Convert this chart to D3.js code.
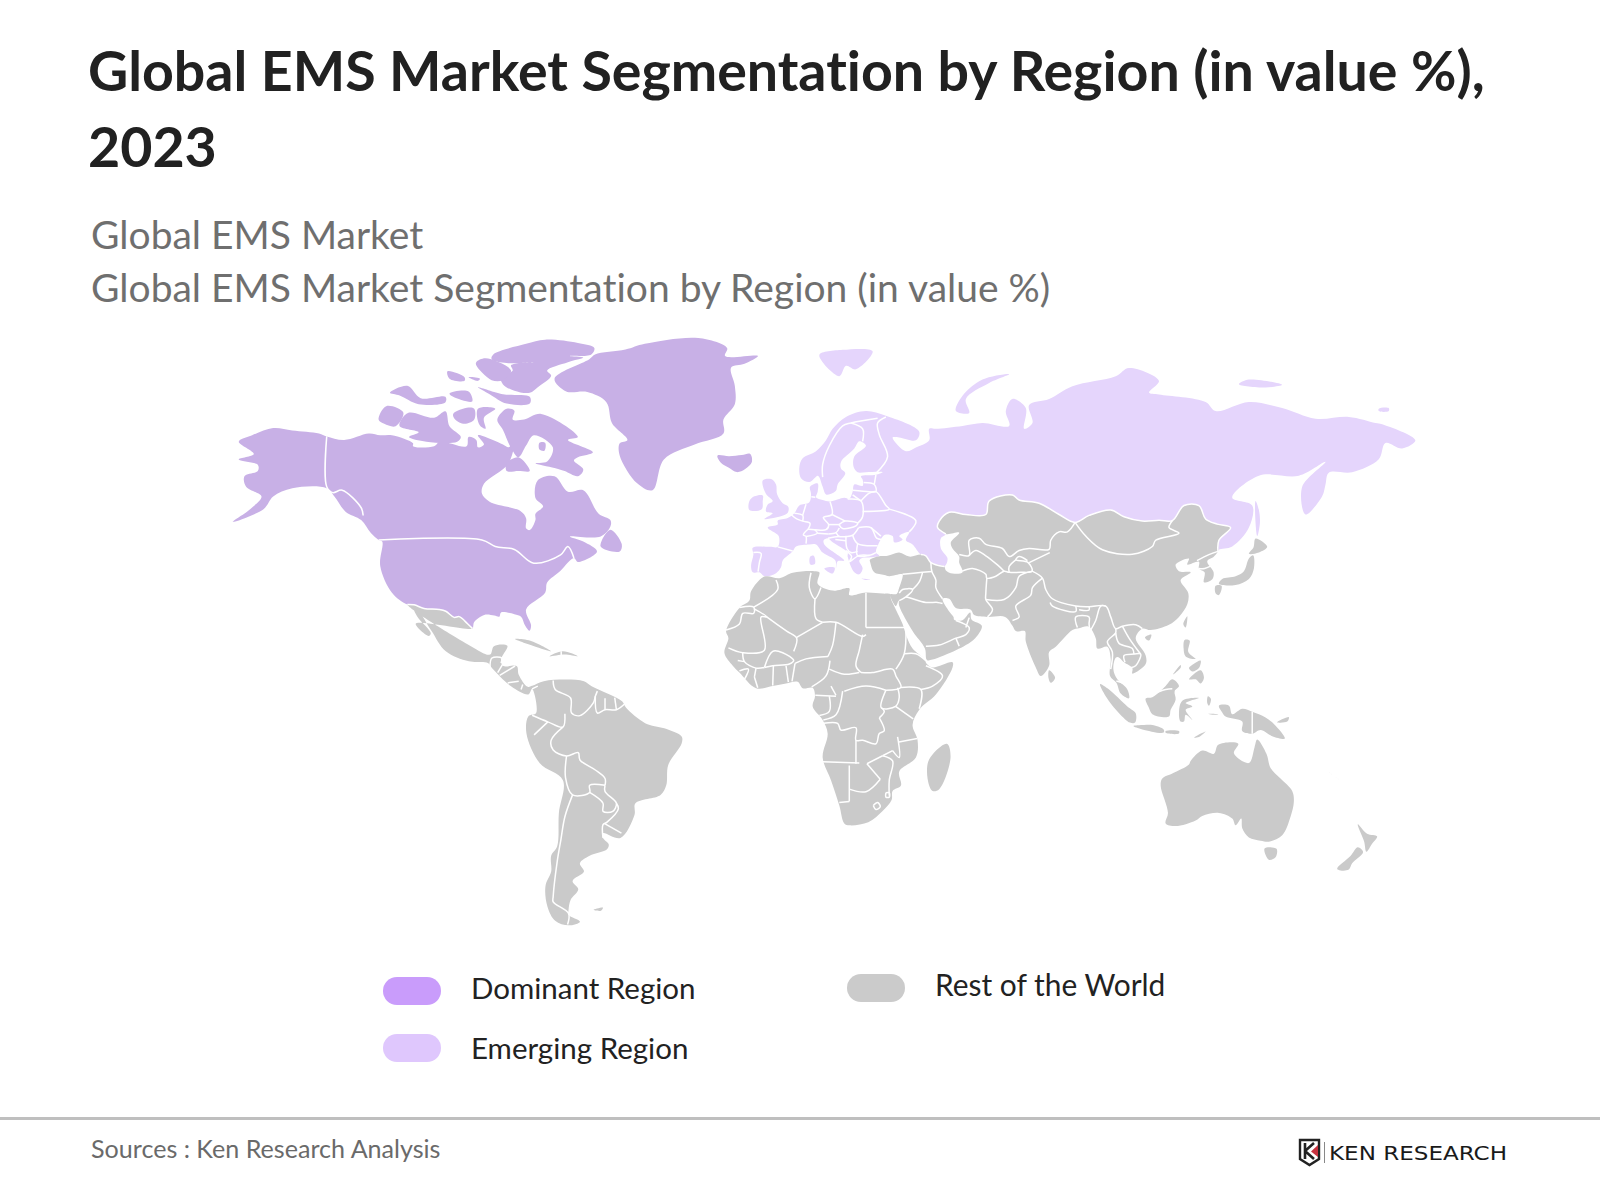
<!DOCTYPE html>
<html><head><meta charset="utf-8">
<script src="https://cdnjs.cloudflare.com/ajax/libs/d3/7.8.5/d3.min.js"></script>
<style>html,body{margin:0;background:#fff}svg{display:block}text{font-family:Lato,sans-serif;font-variant-ligatures:none}</style>
</head><body><svg id="c" width="1600" height="1200"></svg>
<script>
const titleLines=["Global EMS Market Segmentation by Region (in value %),","2023"];
const subtitleLines=["Global EMS Market","Global EMS Market Segmentation by Region (in value %)"];
const legendItems=["Dominant Region","Emerging Region","Rest of the World"];
const sourceText="Sources : Ken Research Analysis";
const logoText="KEN RESEARCH";

// shared frontiers (lon, lat)
const usMexico=[[-97.5,25.6],[-99,27],[-101.5,29],[-103,28.8],[-105.5,30.5],[-107.5,31],[-112,31.3],[-115,32.3],[-117,32.4]];
const russiaAsia=[[48.5,38.5],[44.5,39.5],[43,41.2],[41.5,41.5]];
const emergingAsia=[[130.7,42.3],[131,45],[134.5,48],[130.5,48.8],[127,50],[125,53],[120.5,53],[117,49.6],[113,49.7],[108,49.5],[102.5,50.5],[98.5,52],[92,50.8],[87.8,49.2],[83,51],[77,53.5],[71,54.2],[69,55.3],[62,54],[61,51],[55,51],[50,51.5],[47,49.5],[46.5,48],[49,46.5]];

// New World land
const northAmerica=[[-167.4,69.2],[-163.4,70.3],[-157.1,71.5],[-151.4,71.1],[-143.4,70.6],[-141.1,70.1],[-135.9,69.5],[-128.5,70.6],[-125.1,70.3],[-121.6,70.3],[-115.3,68.9],[-115.3,68.4],[-109,68.4],[-107.3,69.2],[-99.3,68.4],[-98.7,70],[-96.4,69.5],[-95.9,68.2],[-94.1,68.7],[-95.9,70.3],[-88.4,68.7],[-86.7,68.2],[-85,69.5],[-86.7,65.3],[-94.1,61.3],[-94.7,59.3],[-92.4,57.6],[-83.2,55.6],[-81.5,54],[-81.5,51.7],[-80.4,51.3],[-78.7,53.6],[-78.7,55],[-76.4,56.6],[-78.7,58.4],[-78,62],[-73,62.8],[-69,59.7],[-64.4,60],[-59.8,55],[-56.3,53.6],[-56.3,52.1],[-59.2,49.8],[-68.4,49.8],[-64.4,48.6],[-60.3,46.2],[-66,43.6],[-67.2,44.6],[-71.2,41.4],[-75.2,38.3],[-75.8,35.6],[-81.5,31],[-80,26.5],[-80.5,25],[-81.8,26.5],[-83,29],[-85,29.7],[-89,30.2],[-89.5,29],[-91,29.3],[-94,29.5],[-97,27.5],...usMexico,[-121.6,35.6],[-125.1,42.6],[-124.5,48.6],[-125.6,49],[-127.9,50.6],[-130.8,53.6],[-135.4,55.4],[-138.8,58.7],[-141.1,60.4],[-151.4,60.4],[-157.1,58.7],[-160,56],[-169.2,53.2],[-164,56],[-160.6,58.7],[-165.2,60.7],[-165.7,62.8],[-161.7,63.8],[-161.7,65],[-167.4,66],[-162.9,67]];
const greenland=[[-46,83.5],[-30,84.2],[-21.4,83],[-22,82],[-12.2,82],[-16.2,81],[-20.2,80.5],[-19.1,78],[-19.1,75.3],[-22.5,72.9],[-22.5,70.6],[-31.1,68.7],[-40.3,66],[-43.7,60],[-48.3,61.4],[-53.5,66.7],[-53.5,68.9],[-51.2,69.5],[-55.8,72.3],[-57.5,75.6],[-63.2,77.1],[-69.5,77.2],[-73,79],[-62.6,81.6],[-60.9,82.2],[-51.8,82.8]];
const iceland=[[-24.3,66.7],[-20.8,66.6],[-17,66.8],[-14.5,67],[-14,65.5],[-16,64.2],[-18.5,63.6],[-21,64.5],[-23.1,65.3]];
const ellesmere=[[-91.3,82.2],[-81.5,83.5],[-75.8,84],[-66,83.6],[-61.1,83],[-62,82.2],[-68.4,82],[-64.4,81.8],[-69,81.2],[-75.2,80.1],[-74,79.4],[-78,77.8],[-80.4,77],[-85,77.3],[-88.4,78.2],[-89,79.2],[-85.5,80.1],[-86,80.8],[-79.2,81.2],[-87.3,81.1],[-91.8,81.6]];
const axel=[[-96.4,81.2],[-93.6,81.7],[-86,80.1],[-88.4,78.8],[-91.8,78.8],[-96.4,80.8]];
const meighen=[[-105,80],[-99.9,79.2],[-99.9,78.7],[-104.4,79]];
const ringnes=[[-98.7,79.2],[-95.3,79],[-95.9,78.7]];
const devon=[[-95.9,77.8],[-88.4,76.8],[-80.4,76.4],[-80.4,75.4],[-87.3,75.4],[-92.4,76.8]];
const melville=[[-122.2,77],[-117,78],[-113,76.2],[-105.6,76.4],[-105.6,75.6],[-113.6,75.3],[-119.3,76.6]];
const bathurst=[[-104.4,76.9],[-98.7,77.2],[-97.6,75.7],[-103.3,76.4]];
const banks=[[-125.6,72.9],[-123.3,75],[-118.2,74],[-120.5,71.8],[-123.9,72.2]];
const victoria=[[-118.8,72.9],[-116.5,74],[-109,73.2],[-105.6,74.2],[-104.4,71.8],[-101,70],[-102.1,69.2],[-111.3,69.2],[-116.5,70],[-113.6,70.8],[-119.3,71.8]];
const princeWales=[[-103.3,73.8],[-98.7,74.8],[-97,74.6],[-97,72.9],[-99.9,72.2],[-102.7,72.9]];
const somerset=[[-95.9,74.6],[-90.7,74.6],[-94.1,73.2],[-93.6,71.4],[-95.4,72]];
const baffin=[[-90.1,72.9],[-87.3,74.6],[-85,74.3],[-85.5,72.9],[-82.1,72.9],[-77,73.8],[-66,70],[-69,69.5],[-61.5,67.3],[-66,66.4],[-67.2,65.8],[-64.4,64.1],[-66,62.8],[-70,63.8],[-73,64.4],[-78.7,65.3],[-75.2,65.6],[-73.5,68.2],[-79.2,70.3],[-81.5,68.5],[-83.8,66.4],[-86.1,68.2],[-88.4,71.2]];
const southampton=[[-87.3,65.3],[-83.8,66.4],[-80.4,63.8],[-83.8,63.8],[-87.3,63.8]];
const foxeIsle=[[-77.5,69],[-75.8,69],[-76,67.6],[-77.5,67.8]];
const newfoundland=[[-59.2,47.4],[-56.3,51.4],[-52.9,48],[-53.5,46.2]];
const latinAmerica=[...usMexico.slice().reverse(),[-114.5,27],[-110.6,23.5],[-110,24.3],[-114,29],[-115.2,31.5],[-113.5,30.4],[-109.8,25],[-105.5,19],[-98.6,16],[-92.9,15.5],[-91.7,14],[-86,8.5],[-80.8,6],[-79.7,7.7],[-78.5,0.3],[-80.8,-.7],[-81.4,-5.9],[-77.4,-15],[-70.5,-20],[-71.7,-29.5],[-72.2,-38.5],[-74,-41],[-74,-45],[-75.7,-48.5],[-75.1,-53.3],[-72.8,-56.4],[-68.8,-57.4],[-65.4,-56.6],[-68.8,-55.1],[-68.8,-54],[-68.2,-51.8],[-65.9,-49.3],[-67.6,-47.3],[-64.2,-45],[-65.4,-42.9],[-62.5,-41],[-57.3,-39.3],[-56.8,-38],[-58.5,-36.3],[-58.5,-35],[-53.3,-36.3],[-49.1,-30],[-48.8,-26.7],[-41.3,-24.3],[-39.6,-21.5],[-39,-15.5],[-35,-9],[-35,-6.9],[-40.2,-4.4],[-45.9,-2.8],[-51.6,1.9],[-52.8,3.9],[-61.9,8.5],[-64.2,10],[-69.4,10.5],[-76.2,10],[-79.7,8.6],[-81,8.3],[-83.7,12],[-84.3,14.6],[-88.3,14.6],[-89,16.5],[-87.1,20.6],[-91.1,20.5],[-92.3,18],[-98,20.5]];
const cuba=[[-84.8,22.6],[-80.2,22.1],[-74,19],[-79.1,20.5]];
const hispaniola=[[-74.5,17.5],[-70.5,19],[-66,17.5],[-70,18]];
const falkland=[[-61.4,-54],[-58.5,-53.5],[-59.1,-54.2]];

// Old World land
const eurasiaNorth=[[-9,37],[-9.5,38.7],[-8.8,41.5],[-9,43.2],[-4,43.4],[-1.5,43.4],[-1.2,46],[-4.5,48],[-1.5,48.7],[-1.5,49.6],[1.5,50.2],[3.5,51.3],[5,53],[8,53.7],[8.5,55.5],[8.2,57],[10.5,57.7],[10.5,56],[10,54.8],[12,54.2],[14.2,53.9],[18.5,54.7],[20,54.5],[21,56],[21.5,57.5],[24,57.2],[24,58.5],[23.5,59.2],[28,59.5],[30,60],[25,60],[22.5,60],[21.3,61],[21.5,63],[25,65],[23,65.8],[21.5,64.5],[17.5,62],[17.5,60.7],[18.8,59.8],[16.5,57.5],[16,56.2],[14.3,55.5],[13,55.4],[12,57],[11,59],[10.5,59.3],[8,58],[5.5,58.8],[5,61],[6,62.7],[10,64],[13,66],[15,68],[19,70],[25,71],[31,70.2],[41,67.5],[40,66],[35,66.5],[33,66.5],[37,64],[40,64.7],[44,66],[44,68],[46,68],[54,68.5],[60,69],[68,68.5],[67,71],[69,73],[73,71.5],[72.5,68],[75,69],[74,72],[80,73],[87,75],[100,76.5],[104,77.7],[113,75.8],[110,74],[113,73.7],[127,72.5],[130,71],[140,72.5],[150,71.5],[160,69.7],[170,70],[178,69],[180,68.8],[190,66],[186,64.5],[181,65.5],[179,62.5],[171,60],[164,59.9],[163,57.5],[162,55],[157,51],[156,57],[163,62],[155,59.3],[143,59.3],[135,54.7],[141,53],[140,48],[135,43.5],[131,42.7],...emergingAsia,[47.5,45.5],[47.5,43],[49.5,40.5],...russiaAsia,[39,44],[37,45],[38,47],[35,46],[36,45.2],[33.5,44.5],[33,46],[30.7,46.3],[28.7,44],[28,42],[29,41.2],[26,40.8],[24,40.7],[23,40],[24,38],[23,36.5],[21.5,37],[19.5,41],[19.5,42],[15,44.5],[13.5,45.5],[12.3,45],[12.5,44],[16,41.7],[18.5,40],[16.5,39.8],[16,38],[15.8,40],[12,42],[10,44],[8,44],[4,43.5],[3,42.3],[0,40],[-0.5,38.3],[-2,36.8],[-5.5,36],[-7,37]];
const britain=[[-5.5,50],[1.3,51.2],[1.7,52.7],[0,53.5],[-1.7,55.5],[-2,57.5],[-3.5,58.6],[-6,58.3],[-5,55.5],[-3,54],[-4.5,53.2],[-5,51.7],[-3,51.3]];
const ireland=[[-10,52],[-6.3,52.2],[-6,54],[-6,55.2],[-8.5,55],[-10,54]];
const svalbard=[[11,79.5],[17,76.5],[19,78],[22,77.5],[27,80],[18,80.2]];
const novaya=[[52,71],[56,70.7],[55,73],[62,75.5],[68,76.8],[60,76],[54,73.5]];
const newSiberia=[[137,75.3],[145,74.8],[150,75.2],[140,76]];
const wrangel=[[179,71],[182,71],[182,71.5],[179,71.4]];
const sakhalin=[[142,54],[143,52],[143.3,49],[142.5,46],[142,49]];
const sicily=[[12.5,38],[15.6,38.2],[15,36.7]];
const sardinia=[[8.3,39],[9.7,39.2],[9.3,41.2],[8.2,40.9]];
const crete=[[23.6,35.4],[26.2,35.1],[25,35]];
const asia=[[26.2,40.2],[29,41.1],[31.5,41.2],[35,42],[38,41],...russiaAsia.slice().reverse(),[49,37.5],[51,36.7],[54,37],[53,39.5],[53,41],[51,43],[50.5,44.5],[53,46.8],...emergingAsia.slice().reverse(),[129.5,41],[127.5,39.8],[129.4,37],[129,35.2],[126.5,34.4],[126.7,37],[125,38],[125,39.7],[121.5,39],[122,40.5],[118,39],[119,37.3],[122.5,37],[119.5,35],[121.8,31.5],[121.5,28.5],[119,25],[116,22.8],[110.5,21.3],[108,21.7],[106,19],[109,14],[109,11.5],[105,8.7],[105,10.3],[102.5,12],[100.8,13.5],[100,13.3],[99.3,10],[100.5,7],[103.5,4],[104,1.4],[101.5,2.8],[100.2,6],[98.3,8],[98.5,13],[97.5,16.5],[94.5,16],[94,19],[91.8,22.3],[89,21.8],[87,21.3],[82,16.5],[80,15],[80,11],[77.5,8],[76,10.5],[73,18],[72.7,21],[70,21],[69,22.5],[66.8,25],[61.5,25],[57.5,25.5],[56.5,27],[52,27.5],[50,30],[48,30],[50,26.5],[51.3,25],[51.5,24.2],[54,24.1],[56.3,26.2],[56.7,24.3],[59.8,22.5],[57.8,19],[55,17],[52,15.5],[45,12.8],[43.3,12.7],[42.7,16],[39,21],[35,28],[34.8,29.5],[34,28],[32.7,29.8],[32.3,31.2],[34.2,31.3],[35,33],[36,35.8],[36,36.5],[32,36],[30.5,36.3],[27.5,37],[26.3,39.5]];
const africa=[[32.5,30],[32.3,31.2],[30,31.4],[25,31.7],[20,31],[20,32.8],[15,32.2],[10.5,34],[11,37],[9.5,37.3],[3,36.9],[-1,35.5],[-5.5,35.9],[-9.5,32],[-10,29.5],[-13,27.5],[-17,21],[-16.3,19],[-17.5,14.7],[-15,11],[-13,9],[-8,4.4],[-3,5],[1,5.8],[4.5,6.3],[6,4.4],[9,4.5],[9.7,2],[9,-1],[12,-5],[13.5,-9],[12,-16],[14.5,-22.5],[17,-29.5],[18.5,-34.3],[20,-34.8],[25.7,-34],[30,-31],[32.7,-28],[33,-25.5],[35.5,-24],[35,-20],[40,-16],[40.5,-11],[39,-6.5],[41,-2],[46,2.5],[51,10.5],[51,12],[45,10.5],[43.3,11.5],[42.5,13],[39,16],[37.2,19.5],[36,23],[34,27]];
const madagascar=[[44,-16.5],[49.3,-12],[50.4,-16],[47,-25],[45,-25.5],[43.5,-22]];
const sriLanka=[[80,9.7],[81.8,7.5],[80.5,6],[79.8,7.5]];
const honshu=[[131,34],[136,33.7],[140,35.3],[141.5,38],[141.3,41.3],[140,40.5],[138.5,37.3],[136,36],[132,35.3]];
const hokkaido=[[140,41.7],[143,42],[145.5,43.4],[142,45.4],[141.4,43.3]];
const kyushu=[[130,33.5],[131.8,33.5],[131,31],[130,31.5]];
const taiwan=[[120.3,23],[121.5,25.2],[121,22]];
const hainan=[[108.8,19.2],[110.7,20],[110,18.3]];
const luzon=[[120.4,16],[120.7,18.5],[122.2,18.3],[121.8,15],[124,13],[121,13.7]];
const mindanao=[[122,7],[125.5,9.7],[126.5,7.5],[125.5,5.8],[124,7]];
const visayas=[[122,10.3],[123.5,11.6],[125.5,12.5],[125,10.3],[123,9.3]];
const palawan=[[117.2,8.4],[119.5,11.2],[119.5,10.4]];
const borneo=[[109,1.3],[111,1.7],[113,3.2],[115,5],[117,7],[119,5],[117.7,3.5],[118,1],[116.5,-2],[116,-4],[111,-3.3],[110,-1.5]];
const sumatra=[[95.3,5.6],[98,4],[103.5,-1],[106,-3],[105.8,-5.8],[104.3,-5.8],[101,-3],[97,2]];
const java=[[105.3,-6.8],[108.5,-6.5],[111,-6.5],[114.4,-7.8],[114.4,-8.7],[108,-7.8]];
const lesserSunda=[[115,-8.3],[119,-8.3],[119,-9],[115,-8.8]];
const timor=[[123.5,-10.2],[127,-8.4],[125,-10]];
const sulawesi=[[119.5,-5.5],[119,-3],[120,0.7],[125,1.5],[121,0],[123,-1],[121,-2],[123,-5],[121,-3.5],[120.5,-5.5]];
const halmahera=[[127.5,0],[127.7,2],[128.6,1.2],[128,-0.8]];
const seram=[[127.8,-3.2],[130.8,-3.3],[129,-3.5]];
const newGuinea=[[131,-0.8],[134,-0.8],[135,-3.3],[138,-1.7],[141,-2.6],[145,-4.3],[147.8,-6.5],[150.8,-10.5],[147,-9.8],[143.5,-8],[141,-9.1],[138,-8.3],[138,-5.5],[133,-4],[132,-2.8]];
const newBritain=[[148.5,-5.7],[152,-4.2],[151.5,-5.5]];
const australia=[[113.5,-24],[114,-22],[117,-20.6],[122,-18],[122.5,-17],[126,-14],[129.5,-14.9],[130.8,-12.3],[136.8,-12],[135.5,-14.8],[140,-17.6],[141.7,-13],[142.5,-10.8],[145.3,-15],[146.5,-19],[149.5,-22],[153,-25.5],[153.5,-28.5],[152.5,-32.5],[150,-37.4],[146.3,-39],[143.5,-38.8],[140,-38],[138,-35.6],[137.7,-33],[136,-34.8],[135,-33],[131,-31.5],[126,-32.3],[124,-33.5],[118,-35],[115,-34.3],[115.7,-31.5]];
const tasmania=[[144.7,-40.8],[148.3,-40.9],[148,-43],[146,-43.6]];
const nzNorth=[[172.7,-34.5],[175.5,-37],[178.5,-37.7],[177,-39.6],[175.3,-41.6],[174.6,-39]];
const nzSouth=[[172.7,-40.5],[174.3,-41.7],[171,-44.5],[170,-46],[167.5,-46.2],[166.5,-45.8],[170.5,-42.7]];
const newCaledonia=[[164,-20.2],[167,-22.2],[165.5,-21.2]];

const dominantLand=[northAmerica,greenland,iceland,ellesmere,axel,meighen,ringnes,devon,melville,bathurst,banks,victoria,princeWales,somerset,baffin,southampton,foxeIsle,newfoundland];
const restLandNew=[latinAmerica,cuba,hispaniola,falkland];
const emergingLand=[eurasiaNorth,britain,ireland,svalbard,novaya,newSiberia,wrangel,sakhalin,sicily,sardinia,crete];
const restLandOld=[asia,africa,madagascar,sriLanka,honshu,hokkaido,kyushu,taiwan,hainan,luzon,mindanao,visayas,palawan,borneo,sumatra,java,lesserSunda,timor,sulawesi,halmahera,seram,newGuinea,newBritain,australia,tasmania,nzNorth,nzSouth,newCaledonia];

const newWorldFrontiers=[
 [[-141.1,70.1],[-141.1,60.7],[-139.3,59.5],[-136.5,60],[-130.8,56.3],[-130.2,54.6]],
 [[-125.6,49],[-94.7,49],[-90.7,47.4],[-85,46.7],[-79.2,43.3],[-71.2,45.4],[-69,47.4],[-67.2,44.6]],
 usMexico,
 [[-73.4,10.2],[-72.8,7.5],[-68.2,4.9],[-67.9,.3],[-65.4,-.5],[-61.4,3.4],[-60.8,5.4],[-60.2,7]],
 [[-60.8,5.4],[-60.2,.3],[-57.9,1.3],[-54.5,1.3],[-51.9,3.2]],[[-57.9,1.3],[-57.9,4.8]],[[-54.5,1.3],[-55,5]],
 [[-69.9,.1],[-70.5,-4],[-75,-2.4],[-79.7,-.4]],[[-75,-2.4],[-79.1,-6.4]],
 [[-70.5,-4],[-74,-8],[-73.4,-11],[-69.4,-12.8],[-65.9,-11.8],[-65.4,-14],[-60.8,-17],[-57.9,-19.5],[-57.9,-21.5]],
 [[-69.4,-12.8],[-69.7,-19.3],[-67.6,-24.3],[-62.5,-23.6],[-62.5,-21.5],[-57.9,-21.5]],
 [[-62.5,-23.6],[-58.5,-26.7],[-58.5,-29],[-55.6,-29],[-54.5,-26.7],[-57.9,-23.3],[-57.9,-21.5]],
 [[-54.5,-26.7],[-53.9,-28.2],[-57.3,-32],[-58.5,-32.7],[-58.5,-36.3]],[[-58,-32.4],[-53,-35]],
 [[-67.6,-24.3],[-69.9,-30.5],[-71.1,-36.8],[-72.2,-42.5],[-73.4,-51],[-73.4,-52.2],[-68.8,-54.8],[-69.1,-57.2]],
 [[-92.3,14],[-91.7,17],[-88.8,17],[-89,15.5]],[[-90,12.6],[-88.3,15.5]],[[-89.4,11.8],[-84.8,14.6]],[[-87,9.5],[-83.7,10]],[[-83,7.5],[-82.5,9]],[[-79.7,7.7],[-78,8.5]],[[-71,19],[-71,17.5]]
];
const oldWorldFrontiers=[
 emergingAsia,russiaAsia,
 [[-1.5,43.4],[3,42.4]],[[-8.8,42],[-6.5,41.8],[-7,39.5],[-7.4,37.2]],
 [[2.5,51],[4.2,50],[6,49.5],[8.2,49],[7.6,47.6]],[[7.6,47.6],[6.2,46.3],[7,45.9],[7,44.2]],
 [[3.5,51.3],[6,50.8],[6,49.5]],[[7,53.3],[6,50.8]],[[8.6,54.9],[9.8,54.8]],
 [[14.2,53.9],[14.8,51],[12.2,50.3],[13.8,48.7],[13,47.5],[9.6,47.5],[7.6,47.6]],
 [[7,45.9],[10.4,46.7],[9.6,47.5]],[[10.4,46.7],[13.7,46.5]],[[13.8,48.7],[16.9,48.7]],[[14.8,51],[18.8,49.5]],
 [[16.9,48.7],[18.8,49.5],[22.5,49],[22,48.4],[18,47.8],[16.9,48.7]],
 [[16,46.8],[17,45.9],[19,45.9],[21,46.2],[22.8,48]],[[13.7,46.5],[16,46.8],[17,47.9]],[[13.6,45.5],[15.5,45.8],[17,45.9]],
 [[22.5,49],[24,50.5],[23.5,54],[19.5,54.4]],[[23.5,54],[26,55.7],[28,56],[31,53],[32,52.2],[24,51.7]],
 [[21,56.3],[26,56],[28,56],[27.5,57.5],[24.3,57.9]],[[27.5,57.5],[28,59.5]],[[23.5,54],[21,55.3]],
 [[32,52.2],[40,49.6],[38,47]],[[22.8,48],[26.5,48],[28.2,45.5],[29.7,45.2]],[[26.5,48],[29.5,46]],
 [[21,46.2],[22.5,44.2],[28.5,43.7]],[[22.5,44.2],[22.5,41.2],[26,41.3],[28,42]],
 [[19,45.9],[19.3,43],[20.5,42],[22.5,42.3]],[[15.8,45.2],[19,44.9]],[[19,42.5],[20.7,41],[20,39.7],[23,41.3],[26.3,41.3]],
 [[28,59.8],[31.5,63],[29,67],[28.5,69],[31,70]],[[24,65.8],[24,68],[20.5,69]],[[12,59],[12,61.5],[14,65],[18,68.5],[20.5,69],[28.5,69.8]],
 [[53,41.5],[56,41.3],[56,45],[59,45.5],[61,44],[66,43],[68,41],[71,42.5],[74,43],[80,42.8],[80.5,45],[83,47],[85.5,47],[87.8,49.2]],
 [[87.8,49.2],[91,46],[96,42.7],[105,41.6],[111,43.5],[112,45],[119,46.7],[116,48],[117,49.6]],
 [[56,41.3],[58,42.5],[61,41.2],[64.5,38.9],[66.5,37.3]],[[53.9,37.3],[57,38],[61,36.5],[61.3,35.5],[64,36],[66.5,37.3],[68,37],[71.5,37],[74.9,37.3],[73.7,39.5],[70,40.2],[71,41],[73.5,40]],
 [[70,40.2],[68,38.5],[68,37]],[[80.2,42],[74,39.5]],
 [[74.9,37.3],[78,35.5],[79,32.5],[81,30],[88,28],[92,27.8],[97,28],[98.5,25],[100,21.7],[102,22.4],[106,22.8],[108,21.7]],
 [[80.3,29],[81,28],[88,26.5],[88,28]],[[89,27],[92,26.9],[92,28]],
 [[61,29.8],[66.5,29.8],[70,33],[71,36],[74.9,37.3]],[[61.5,25],[63,27],[61,29.8],[61,31.5],[61.3,35.5]],
 [[69,24],[71,25],[70,28],[74.5,31],[75,33],[78,35.5]],[[88.5,22],[88,25],[92,25],[92,23],[92.3,21]],[[92.3,21],[94,24],[95.5,28],[97,28]],
 [[98.5,10],[99,15],[97.5,18],[100,20.5],[100,21.7]],[[100,20.5],[101,17.5],[105,16],[105.5,14.4]],[[102,22.4],[104,19],[107,15],[107.5,14.4]],
 [[102.8,12],[102.5,14],[105.5,14.4],[107.5,14.4],[106,11],[104.5,10.4]],[[100.2,6.5],[102,6]],
 [[44.5,39.5],[44.8,37.2],[46,35],[46,33],[48,30]],[[36,36.5],[42,37],[44.8,37.2]],[[42,37],[41,34.5],[39,32.5]],
 [[35,29.5],[37,30.5],[39,32.5],[36,32.5],[35,31.5]],[[37,30.5],[38,30.3],[43,29],[46.5,29],[48,28.7]],
 [[43,16.7],[47,17],[52,19],[55,20],[56,22],[52,24]],[[55,22],[56,24.8]],[[52,19],[53,16.7]],
 [[125,38],[126.7,38],[128.5,38.6]],[[124.4,40],[128,41.5],[130.7,42.3]],
 [[-2,35],[-1.5,32.5],[-8.7,27.7]],[[-13,27.6],[-8.7,27.7],[-8.7,26],[-12,26],[-13,23],[-17,21.3]],
 [[-8.7,27.3],[-4.8,25],[-6.5,25],[-5.5,15.5],[-12,14.8],[-16.3,16.2]],[[-4.8,25],[1.2,21],[4.2,19],[3.3,15.2]],
 [[4.2,19.2],[12,23.5]],[[9.7,30],[10,24.5],[12,23.5]],[[8.5,36.9],[8,33],[9.7,30],[11.5,33]],
 [[25,31.6],[25,22]],[[25,22],[37,22]],[[25,20],[24,19.5],[16,23.5],[12,23.5]],[[24,20],[23,15.5],[22,11],[23.5,9]],
 [[16,23.5],[15,17],[13.6,13.7]],[[3.7,11.7],[7,13],[13.6,13.7]],[[14.2,12.5],[13,8],[8.7,4.8]],[[3.7,11.7],[2.8,6.4]],
 [[1.7,6.2],[1,11]],[[-3,5.2],[-2.8,11]],[[-5.5,10.5],[-3,11],[2,11.5],[3.3,12.5],[0,14.8],[-3,15.2],[-5.5,10.5]],
 [[-5.5,10.5],[-8,10.3],[-11.5,12.2],[-12,14.8]],[[-13.5,12.5],[-11.5,12.2]],[[-13,9.5],[-10.3,10],[-11.5,7]],[[-8.5,7.7],[-7.5,4.5]],[[-8,10.3],[-8.5,7.7]],
 [[14,10],[18.5,8.5],[23,9]],[[14.5,5],[16,2.3]],[[9.8,2.3],[16,2]],[[14,2],[14,-2.5],[11,-3.7]],[[12.2,-5],[16,-3.5],[18,3.5]],
 [[18.5,3.5],[25,5],[31,3.8]],[[23.5,9],[27,9],[33,10],[34,8],[35.5,4.6],[31,3.8]],[[37,22],[36.5,14.5],[34,10]],[[36.5,14.5],[40,14.5],[43,12.5]],
 [[43,11],[48,8],[45,5],[41.5,4]],[[35.5,4.6],[41.5,4],[41,-1.7]],[[31,3.8],[29.6,-1.4],[33.9,-1],[35,1.7],[34.5,4.5]],[[33.9,-1],[39.2,-4.7]],
 [[29.6,-1.4],[30.5,-2.5],[29,-4.4]],[[34.9,-11.5],[40.4,-10.5]],
 [[12.2,-6],[16.5,-6],[17.5,-8],[22,-7.3],[22,-11],[24,-11],[28,-12],[29,-9],[30.5,-8.2],[29,-4.4]],
 [[22,-11],[22,-17.8]],[[12,-17.2],[23,-17.6]],[[25.3,-17.8],[30,-15.5]],[[20,-18.3],[20,-28.4]],[[17,-28.7],[20,-28.4]],
 [[20,-25],[25,-25.7],[29.3,-22.2]],[[30,-15.5],[33,-17],[32,-22.5],[32,-26.8]],[[33,-14],[35,-16],[34.5,-10]],[[30,-15.5],[33,-14]],[[25.3,-17.8],[29.3,-22.2]],
 [[27.2,-29.5],[28.5,-28.7],[29.3,-29.8],[28,-30.6],[27.2,-29.5]],[[31,-26],[32,-26],[32,-27.2],[31,-27.2],[31,-26]],
 [[141,-2.6],[141,-9.1]],[[109.6,2],[115,4],[117,4.2]]
];

const landFills={dominant:"#c8b0e6",emerging:"#e5d5fc",rest:"#cacaca"};
const legendFills=["#c99cfb","#dfc7fd","#cbcbcb"];

const svg=d3.select("#c");
const miller=lat=>1.25*Math.log(Math.tan(Math.PI/4+0.4*lat*Math.PI/180));
const yMiller=d3.scaleLinear().domain([0,1]).range([714,527]);
const xNew=d3.scaleLinear().domain([-180,0]).range([798.7-180*3.345,798.7]);
const xOld=d3.scaleLinear().domain([0,180]).range([782.7,782.7+180*3.33]);
const yOldShift=d3.scaleLinear().domain([-60,-35,0,36,60,70,80]).range([-5,-7,-11,-15,-18,-20,-20]);
const newWorld={x:xNew,y:lat=>yMiller(miller(lat))};
const oldWorld={x:xOld,y:lat=>yMiller(miller(lat))+yOldShift(lat)};
const areaGen=w=>d3.line().x(p=>w.x(p[0])).y(p=>w.y(p[1])).curve(d3.curveCatmullRomClosed.alpha(.5));
const lineGen=w=>d3.line().x(p=>w.x(p[0])).y(p=>w.y(p[1])).curve(d3.curveCatmullRom.alpha(.5));
const map=svg.append("g");
[[dominantLand,landFills.dominant,newWorld],[restLandNew,landFills.rest,newWorld],[emergingLand,landFills.emerging,oldWorld],[restLandOld,landFills.rest,oldWorld]].forEach(([polys,fill,w])=>{
  map.append("g").selectAll("path").data(polys).join("path").attr("d",areaGen(w)).attr("fill",fill);
});
[[newWorldFrontiers,newWorld],[oldWorldFrontiers,oldWorld]].forEach(([ls,w])=>{
  map.append("g").selectAll("path").data(ls).join("path").attr("d",lineGen(w)).attr("fill","none").attr("stroke","#fff").attr("stroke-width",1.5).attr("stroke-linejoin","round");
});

svg.selectAll("text.t").data(titleLines).join("text").attr("class","t").attr("x",88).attr("y",(d,i)=>91+i*76)
  .attr("font-size",55.5).attr("font-weight",700).attr("fill","#212121").text(d=>d);
svg.selectAll("text.s").data(subtitleLines).join("text").attr("class","s").attr("x",91).attr("y",(d,i)=>249+i*53)
  .attr("font-size",39).attr("fill","#6f6f6f").text(d=>d);
const legendPos=[[383,977,471,999,29.5],[383,1034,471,1059,29.5],[847,974,935,996,29.9]];
legendItems.forEach((t,i)=>{const [sx,sy,tx,ty,fs]=legendPos[i];
  svg.append("rect").attr("x",sx).attr("y",sy).attr("width",58).attr("height",28).attr("rx",14).attr("fill",legendFills[i]);
  svg.append("text").attr("x",tx).attr("y",ty).attr("font-size",fs).attr("fill","#222").text(t);
});
svg.append("rect").attr("x",0).attr("y",1117).attr("width",1600).attr("height",3).attr("fill","#bfbfbf");
svg.append("text").attr("x",91).attr("y",1158).attr("font-size",25.1).attr("fill","#6a6a6a").text(sourceText);
const logo=svg.append("g").attr("transform","translate(1299,1140)");
logo.append("path").attr("d","M1 0H20V19L10.5 25L1 19Z").attr("fill","none").attr("stroke","#222").attr("stroke-width",2.4);
logo.append("path").attr("d","M6 3V19M6 11L15 3M6 11L15 19").attr("fill","none").attr("stroke","#222").attr("stroke-width",2.6);
logo.append("path").attr("d","M19 5L12 11.5L19 17Z").attr("fill","#c8323f");
logo.append("rect").attr("x",25).attr("y",2).attr("width",1).attr("height",21).attr("fill","#888");
logo.append("text").attr("x",30).attr("y",20).attr("font-size",20).style("font-family","'DejaVu Sans',sans-serif").attr("fill","#1a1a1a").attr("textLength",178).attr("lengthAdjust","spacingAndGlyphs").text(logoText);
</script></body></html>
